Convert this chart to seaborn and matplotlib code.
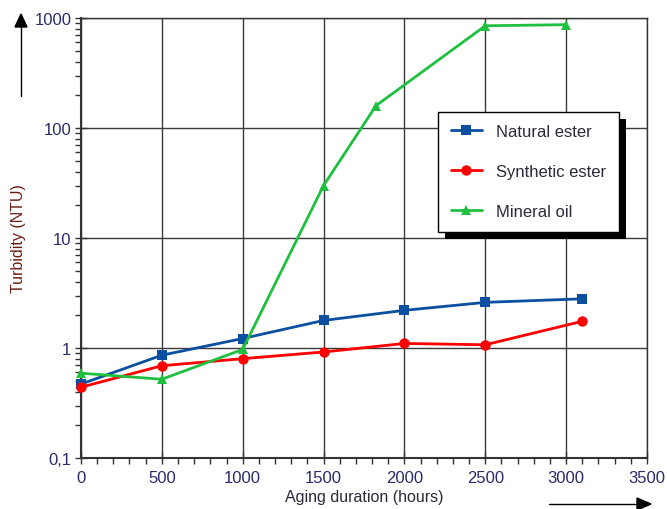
import pandas as pd
import numpy as np
import seaborn as sns
from matplotlib import pyplot as plt
from matplotlib.ticker import FixedLocator, MultipleLocator, FuncFormatter
from matplotlib.patches import Rectangle

# data
hours_natural = [0, 500, 1000, 1500, 2000, 2500, 3100]
natural_ester = [0.47, 0.86, 1.22, 1.78, 2.2, 2.6, 2.8]

hours_synthetic = [0, 500, 1000, 1500, 2000, 2500, 3100]
synthetic_ester = [0.44, 0.69, 0.80, 0.92, 1.10, 1.07, 1.75]

hours_mineral = [0, 500, 1000, 1500, 1825, 2500, 3000]
mineral_oil = [0.59, 0.52, 0.97, 30, 160, 850, 870]

series_names = ['Natural ester', 'Synthetic ester', 'Mineral oil']
series_colors = ['#0a4fa0', '#ff0000', '#1fbf3f']
series_markers = ['s', 'o', '^']

df = pd.concat([
    pd.DataFrame({'hours': hours_natural, 'turbidity': natural_ester, 'oil': series_names[0]}),
    pd.DataFrame({'hours': hours_synthetic, 'turbidity': synthetic_ester, 'oil': series_names[1]}),
    pd.DataFrame({'hours': hours_mineral, 'turbidity': mineral_oil, 'oil': series_names[2]}),
], ignore_index=True)

sns.set_style('white')
plt.rcParams['font.family'] = ['Liberation Sans', 'DejaVu Sans']

fig = plt.figure(figsize=(6.67, 5.10), dpi=100)
ax = fig.add_axes([0.1214, 0.10, 0.8486, 0.8627])

sns.lineplot(data=df, x='hours', y='turbidity', hue='oil', style='oil',
             hue_order=series_names, style_order=series_names,
             palette=dict(zip(series_names, series_colors)),
             markers=dict(zip(series_names, series_markers)),
             dashes=False, linewidth=2, markersize=7.5, markeredgewidth=0,
             sort=False, estimator=None, ax=ax, clip_on=False, zorder=3)

ax.set_yscale('log')
ax.set_xlim(0, 3500)
ax.set_ylim(0.1, 1000)

tick_color = '#2b2b6b'
ax.xaxis.set_major_locator(MultipleLocator(500))
ax.xaxis.set_minor_locator(MultipleLocator(100))
ax.yaxis.set_major_locator(FixedLocator([0.1, 1, 10, 100, 1000]))
ax.yaxis.set_major_formatter(FuncFormatter(lambda v, p: '0,1' if v < 0.5 else '%d' % v))

ax.tick_params(axis='both', which='major', direction='inout', length=8, width=1,
               color='#333333', labelsize=12, labelcolor=tick_color,
               bottom=True, left=True)
ax.tick_params(axis='x', which='major', pad=5)
ax.tick_params(axis='y', which='major', pad=3)
ax.tick_params(axis='both', which='minor', direction='out', length=4, width=1,
               color='#333333', bottom=True, left=True)

ax.grid(True, which='major', color='#3a3a3a', linewidth=1)
for side in ['left', 'bottom', 'top', 'right']:
    ax.spines[side].set_visible(True)
    ax.spines[side].set_color('#333333')
    ax.spines[side].set_linewidth(1)
ax.spines['left'].set_linewidth(1.5)
ax.spines['bottom'].set_linewidth(1.5)

ax.set_xlabel('Aging duration (hours)', fontsize=11.5, color='#2a2a3a', labelpad=2.5)
ax.set_ylabel('Turbidity (NTU)', fontsize=11.5, color='#6a1f14', labelpad=6)

leg = ax.legend(loc='upper left', bbox_to_anchor=(0.631, 0.787), fontsize=12,
                frameon=True, fancybox=False, framealpha=1, edgecolor='black',
                borderpad=0.75, labelspacing=1.5, handlelength=1.9, handletextpad=0.85,
                borderaxespad=0)
leg.get_frame().set_linewidth(1)
for t in leg.get_texts():
    t.set_color('#2a2a3a')
leg.set_zorder(6)

# black drop shadow behind the legend box
fig.canvas.draw()
bb = leg.get_window_extent().transformed(fig.transFigure.inverted())
dx, dy = 7 / 667, 7 / 510
shadow = Rectangle((bb.x0 + dx, bb.y0 - dy), bb.width, bb.height,
                   transform=fig.transFigure, facecolor='black', edgecolor='none',
                   zorder=5, clip_on=False)
ax.add_patch(shadow)

# direction arrows
fig.add_artist(plt.Line2D([21 / 667, 21 / 667], [1 - 97 / 510, 1 - 24 / 510],
                          color='black', linewidth=1))
fig.patches.append(plt.Polygon([[15 / 667, 1 - 28 / 510], [27 / 667, 1 - 28 / 510],
                                [21 / 667, 1 - 15 / 510]], closed=True,
                               transform=fig.transFigure, color='black'))
fig.add_artist(plt.Line2D([549 / 667, 640 / 667], [1 - 505 / 510, 1 - 505 / 510],
                          color='black', linewidth=1))
fig.patches.append(plt.Polygon([[637 / 667, 1 - 499 / 510], [637 / 667, 1 - 511 / 510],
                                [651 / 667, 1 - 505 / 510]], closed=True,
                               transform=fig.transFigure, color='black', clip_on=False))

fig.savefig('out.png', dpi=100)
